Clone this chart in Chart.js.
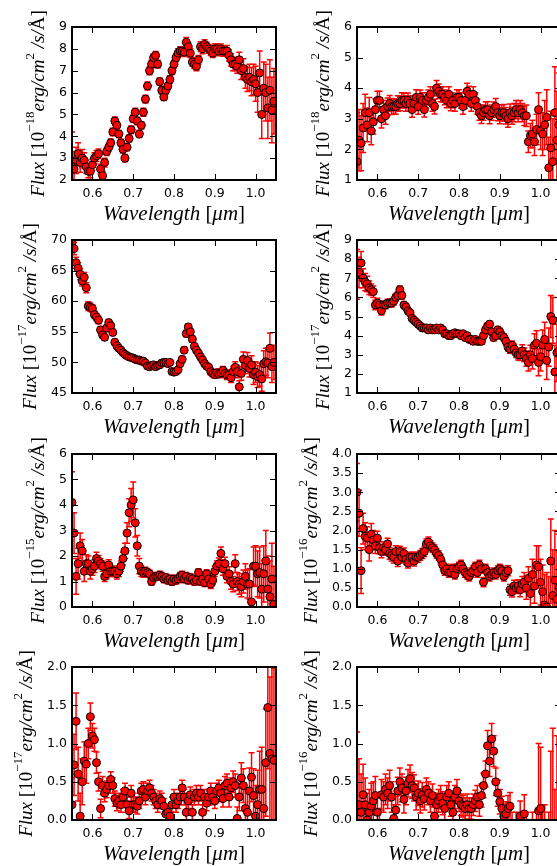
<!DOCTYPE html>
<html>
<head>
<meta charset="utf-8">
<script src="https://cdn.jsdelivr.net/npm/chart.js@4.4.0/dist/chart.umd.min.js"></script>
<style>
  html, body { margin: 0; padding: 0; background: #fff; overflow: hidden; }
  #wrap { position: relative; width: 557px; height: 866px; overflow: hidden; }
  #wrap canvas { position: absolute; }
</style>
</head>
<body>
<div id="wrap"></div>
<script>
// wavelength grid (micron), shared by all panels
const wavelength = [
  0.550,0.555,0.560,0.565,0.570,0.575,0.580,0.585,0.590,0.595,
  0.600,0.605,0.610,0.615,0.620,0.625,0.630,0.635,0.640,0.645,
  0.650,0.655,0.660,0.665,0.670,0.675,0.680,0.685,0.690,0.695,
  0.700,0.705,0.710,0.715,0.720,0.725,0.730,0.735,0.740,0.745,
  0.750,0.755,0.760,0.765,0.770,0.775,0.780,0.785,0.790,0.795,
  0.800,0.805,0.810,0.815,0.820,0.825,0.830,0.835,0.840,0.845,
  0.850,0.855,0.860,0.865,0.870,0.875,0.880,0.885,0.890,0.895,
  0.900,0.905,0.910,0.915,0.920,0.925,0.930,0.935,0.940,0.945,
  0.950,0.955,0.960,0.965,0.970,0.975,0.980,0.985,0.990,0.995,
  1.000,1.005,1.010,1.015,1.020,1.025,1.030,1.035,1.040,1.045
];
const xTicks = [0.6, 0.7, 0.8, 0.9, 1.0];

const flux1 = [
  2.7,2.5,2.9,3.2,2.8,3.0,2.9,2.6,2.4,2.4,
  2.7,3.0,3.1,3.2,2.5,2.2,2.8,3.3,3.5,3.7,
  4.2,4.7,4.5,4.1,3.7,3.4,3.0,3.5,3.9,4.3,
  4.8,5.1,4.7,4.1,4.5,5.1,5.7,6.3,7.0,7.3,
  7.6,7.7,7.3,6.5,6.1,5.8,6.1,6.3,6.6,7.0,
  7.3,7.6,7.8,7.9,7.9,7.85,8.3,8.1,7.8,7.4,
  7.3,7.2,7.5,8.1,8.0,8.2,8.1,8.0,7.9,7.8,
  8.0,8.0,7.9,8.0,7.9,7.9,7.9,7.7,7.5,7.3,
  7.3,7.2,7.5,7.0,7.1,6.7,6.6,6.7,6.5,6.6,
  6.4,6.0,6.9,5.0,6.2,6.0,5.3,6.1,5.2,5.6
];
const err1 = [
  1.5,0.8,0.6,0.5,0.45,0.4,0.35,0.3,0.3,0.3,
  0.25,0.25,0.25,0.22,0.22,0.2,0.2,0.18,0.18,0.18,
  0.17,0.18,0.17,0.16,0.16,0.16,0.17,0.16,0.16,0.17,
  0.17,0.18,0.17,0.16,0.17,0.18,0.18,0.18,0.18,0.18,
  0.18,0.18,0.18,0.17,0.17,0.16,0.16,0.16,0.17,0.17,
  0.18,0.18,0.2,0.2,0.2,0.2,0.22,0.2,0.2,0.2,
  0.2,0.2,0.2,0.22,0.22,0.22,0.2,0.2,0.2,0.2,
  0.22,0.22,0.22,0.22,0.24,0.24,0.25,0.26,0.28,0.3,
  0.3,0.32,0.35,0.4,0.45,0.5,0.55,0.6,0.65,0.7,
  0.8,0.9,1.0,1.1,1.2,1.3,1.4,1.4,1.5,1.5
];

const flux2 = [
  1.6,2.3,2.2,2.7,3.2,2.8,3.2,2.6,2.9,3.3,
  3.6,3.6,3.0,3.3,3.1,3.4,3.5,3.4,3.4,3.4,
  3.5,3.5,3.6,3.6,3.5,3.6,3.5,3.3,3.5,3.7,
  3.4,3.7,3.6,3.3,3.6,3.7,3.8,3.5,3.4,4.0,
  3.9,3.8,3.8,3.7,3.6,3.8,3.5,3.6,3.5,3.7,
  3.7,3.6,3.4,3.6,3.9,3.8,3.5,3.8,3.6,3.4,
  3.2,3.1,3.2,3.3,3.3,3.1,3.2,3.3,3.4,3.2,
  3.1,3.2,3.2,3.1,3.0,3.2,3.1,3.2,3.3,3.2,
  3.3,3.2,3.1,3.1,2.25,2.45,2.5,2.25,2.65,3.3,
  2.6,2.5,2.8,3.05,1.4,2.05,1.6,3.2,2.3,2.8
];
const err2 = [
  1.6,1.0,0.9,0.8,0.6,0.55,0.5,0.45,0.4,0.35,
  0.3,0.3,0.3,0.3,0.28,0.28,0.26,0.26,0.25,0.25,
  0.25,0.24,0.25,0.24,0.25,0.24,0.25,0.25,0.24,0.25,
  0.25,0.24,0.25,0.24,0.25,0.24,0.25,0.25,0.24,0.25,
  0.24,0.24,0.25,0.24,0.24,0.25,0.24,0.24,0.25,0.25,
  0.25,0.25,0.25,0.26,0.26,0.26,0.25,0.25,0.25,0.25,
  0.25,0.25,0.25,0.26,0.26,0.26,0.25,0.25,0.26,0.26,
  0.26,0.26,0.27,0.27,0.28,0.28,0.28,0.3,0.3,0.3,
  0.3,0.3,0.32,0.35,0.35,0.4,0.45,0.45,0.5,0.55,
  0.6,0.7,0.8,0.9,1.0,1.2,1.4,1.5,1.6,1.7
];

const flux3 = [
  69.6,68.6,66.3,65.4,64.4,63.3,63.9,62.2,59.2,59.0,
  58.8,57.8,57.4,56.9,55.3,54.5,54.1,55.6,56.5,56.0,
  54.9,53.3,52.7,52.3,52.0,51.6,51.3,51.1,50.9,50.8,
  50.7,50.5,50.4,50.4,50.2,50.2,49.9,49.4,49.3,49.5,
  49.6,49.3,49.5,49.6,49.9,50.0,50.0,49.8,50.0,48.5,
  48.4,48.5,48.8,49.8,50.5,52.0,54.7,55.8,55.0,53.8,
  52.6,52.0,51.5,50.9,50.4,49.8,49.4,49.2,48.5,48.2,
  48.0,48.3,48.1,48.3,48.7,48.2,47.9,48.0,47.5,48.5,
  49.2,48.5,46.0,48.2,50.5,49.5,50.3,49.0,49.6,48.0,
  48.4,47.7,48.0,47.3,49.8,50.1,49.9,52.3,49.3,50.0
];
const err3 = [
  1.0,1.0,0.9,0.9,0.9,0.8,0.8,0.8,0.7,0.7,
  0.6,0.6,0.6,0.6,0.55,0.55,0.5,0.5,0.5,0.5,
  0.5,0.45,0.45,0.45,0.45,0.45,0.45,0.45,0.45,0.45,
  0.45,0.45,0.45,0.45,0.45,0.45,0.45,0.45,0.45,0.45,
  0.45,0.45,0.45,0.45,0.45,0.45,0.45,0.45,0.45,0.45,
  0.45,0.45,0.45,0.45,0.45,0.5,0.5,0.5,0.5,0.5,
  0.5,0.5,0.5,0.5,0.5,0.5,0.5,0.5,0.55,0.55,
  0.6,0.6,0.6,0.65,0.65,0.7,0.7,0.75,0.8,0.85,
  0.9,1.0,1.0,1.1,1.2,1.3,1.3,1.4,1.5,1.6,
  1.7,1.8,1.9,2.0,2.1,2.2,2.4,2.5,2.6,2.8
];

const flux4 = [
  7.2,7.3,7.8,7.0,6.8,6.7,6.5,6.4,6.3,5.6,
  5.7,5.6,5.3,5.6,5.6,5.7,5.7,5.7,5.8,6.0,
  6.1,6.4,6.1,5.6,5.5,5.3,5.2,4.9,4.8,4.7,
  4.6,4.5,4.4,4.4,4.4,4.3,4.4,4.3,4.3,4.4,
  4.3,4.4,4.3,4.1,4.1,4.0,4.0,4.1,4.15,4.1,
  4.1,4.0,4.1,3.9,4.0,3.8,3.8,3.7,3.8,3.7,
  3.7,3.7,4.0,4.3,4.5,4.6,4.2,3.9,4.0,4.3,
  4.2,4.0,3.9,3.7,3.4,3.3,3.5,3.3,3.1,3.0,
  3.0,3.2,3.0,2.8,2.6,3.0,2.8,3.5,3.6,2.6,
  2.9,3.5,3.8,2.7,3.4,5.0,4.8,2.1,3.1,3.2
];
const err4 = [
  1.3,0.8,0.6,0.5,0.45,0.4,0.35,0.3,0.3,0.25,
  0.25,0.22,0.22,0.2,0.2,0.2,0.2,0.2,0.2,0.2,
  0.2,0.2,0.18,0.18,0.18,0.17,0.17,0.16,0.16,0.16,
  0.15,0.15,0.15,0.15,0.15,0.15,0.15,0.15,0.15,0.15,
  0.15,0.15,0.15,0.15,0.15,0.15,0.15,0.15,0.15,0.15,
  0.15,0.15,0.15,0.15,0.15,0.15,0.15,0.15,0.15,0.15,
  0.15,0.15,0.16,0.16,0.17,0.17,0.17,0.17,0.17,0.18,
  0.18,0.18,0.2,0.2,0.2,0.22,0.22,0.25,0.25,0.28,
  0.3,0.32,0.35,0.4,0.45,0.5,0.55,0.6,0.65,0.7,
  0.75,0.8,0.9,1.0,1.0,1.1,1.2,1.4,1.5,1.6
];

const flux5 = [
  4.1,2.9,1.2,1.7,2.4,2.2,1.4,1.7,1.7,1.4,
  1.5,1.6,1.9,1.8,1.7,1.6,1.2,1.3,1.65,1.4,
  1.4,1.4,1.3,1.4,1.6,1.9,2.2,2.9,3.7,4.0,
  4.2,3.3,2.4,1.6,1.4,1.35,1.4,1.35,1.3,1.0,
  1.15,1.2,1.2,1.25,1.2,1.1,1.15,1.05,1.1,1.0,
  1.1,1.05,1.1,1.2,1.25,1.1,1.2,1.05,1.15,1.1,
  1.0,1.05,1.35,1.0,1.1,0.95,1.3,1.1,0.9,1.05,
  1.4,1.6,1.7,2.1,1.5,1.7,1.2,1.3,1.0,0.9,
  1.7,1.0,0.9,0.8,1.0,1.2,0.9,0.9,0.2,1.6,
  1.6,1.3,1.35,0.7,1.3,1.8,0.7,0.4,1.1,0.1
];
const err5 = [
  1.2,0.8,0.7,0.6,0.5,0.45,0.4,0.35,0.3,0.3,
  0.25,0.25,0.25,0.22,0.2,0.2,0.2,0.2,0.2,0.2,
  0.2,0.2,0.2,0.2,0.2,0.25,0.3,0.4,0.55,0.65,
  0.7,0.55,0.4,0.3,0.2,0.18,0.16,0.16,0.15,0.15,
  0.15,0.15,0.15,0.15,0.15,0.15,0.15,0.15,0.15,0.15,
  0.15,0.15,0.15,0.15,0.15,0.15,0.15,0.15,0.15,0.15,
  0.15,0.15,0.15,0.15,0.15,0.15,0.16,0.16,0.17,0.18,
  0.2,0.2,0.22,0.25,0.25,0.25,0.25,0.28,0.3,0.3,
  0.35,0.35,0.4,0.4,0.45,0.5,0.55,0.6,0.7,0.75,
  0.8,0.9,1.0,1.0,1.1,1.2,1.3,1.4,1.4,1.5
];

const flux6 = [
  3.0,2.45,0.95,2.05,1.85,1.8,1.5,1.9,1.75,1.6,
  1.8,1.55,1.45,1.55,1.5,1.65,1.4,1.35,1.3,1.45,
  1.2,1.45,1.3,1.4,1.25,1.15,1.3,1.3,1.2,1.3,
  1.3,1.35,1.4,1.45,1.65,1.7,1.6,1.55,1.5,1.4,
  1.35,1.25,1.1,0.95,1.0,0.9,0.9,1.0,0.85,1.0,
  1.05,1.1,1.0,0.9,0.85,0.8,0.9,0.95,1.05,0.9,
  1.1,1.0,0.65,1.0,0.9,0.8,0.85,0.9,0.85,0.95,
  1.0,0.95,0.8,0.9,0.95,0.45,0.4,0.55,0.5,0.55,
  0.45,0.6,0.65,0.5,0.75,0.35,0.85,0.55,1.1,1.05,
  0.65,0.4,0.05,0.0,-0.2,1.2,0.3,0.7,0.2,0.5
];
const err6 = [
  0.75,0.6,0.6,0.4,0.35,0.3,0.3,0.28,0.25,0.2,
  0.18,0.16,0.16,0.15,0.15,0.15,0.15,0.15,0.15,0.15,
  0.14,0.14,0.14,0.14,0.13,0.13,0.13,0.13,0.13,0.13,
  0.13,0.13,0.13,0.13,0.13,0.13,0.13,0.12,0.12,0.12,
  0.12,0.12,0.12,0.12,0.12,0.12,0.12,0.12,0.12,0.12,
  0.12,0.12,0.12,0.12,0.12,0.12,0.12,0.12,0.12,0.12,
  0.12,0.12,0.12,0.12,0.12,0.12,0.12,0.12,0.12,0.12,
  0.12,0.12,0.12,0.13,0.13,0.14,0.14,0.15,0.15,0.16,
  0.18,0.2,0.25,0.3,0.3,0.35,0.4,0.45,0.5,0.55,
  0.6,0.7,0.8,0.9,1.0,1.1,1.2,1.3,1.3,1.4
];

const flux7 = [
  0.2,0.72,1.29,0.6,0.05,0.5,0.77,0.73,1.0,1.35,
  1.1,1.05,0.75,0.5,0.15,0.45,0.35,0.4,0.45,0.53,
  0.45,0.28,0.22,0.25,0.2,0.3,0.38,0.2,0.12,0.35,
  0.2,0.2,0.18,0.25,0.38,0.4,0.3,0.38,0.42,0.35,
  0.3,0.25,0.2,0.28,0.25,0.18,0.08,0.1,0.05,0.2,
  0.3,0.2,0.25,0.3,0.42,0.3,0.1,0.25,0.33,0.1,
  0.3,0.35,0.3,0.35,0.1,0.3,0.22,0.3,0.38,0.3,
  0.25,0.38,0.42,0.35,0.28,0.45,0.48,0.3,0.42,0.5,
  0.45,0.02,0.3,0.55,0.45,0.15,0.1,0.38,0.56,0.32,
  0.05,0.2,0.4,0.4,0.15,0.75,1.47,0.87,0.8,0.78
];
const err7 = [
  0.35,0.4,0.37,0.35,0.3,0.3,0.25,0.25,0.2,0.18,
  0.16,0.15,0.14,0.12,0.12,0.12,0.11,0.11,0.1,0.1,
  0.1,0.1,0.1,0.1,0.1,0.1,0.1,0.1,0.1,0.1,
  0.1,0.1,0.1,0.1,0.1,0.1,0.1,0.1,0.1,0.1,
  0.1,0.1,0.1,0.1,0.1,0.1,0.1,0.1,0.1,0.1,
  0.1,0.1,0.1,0.1,0.1,0.1,0.1,0.1,0.1,0.1,
  0.1,0.1,0.1,0.1,0.1,0.1,0.1,0.1,0.1,0.1,
  0.1,0.1,0.1,0.11,0.11,0.12,0.12,0.13,0.13,0.14,
  0.15,0.15,0.18,0.2,0.22,0.25,0.28,0.3,0.32,0.35,
  0.4,0.45,0.5,0.55,0.6,0.7,0.8,1.0,1.2,1.2
];

const flux8 = [
  0.15,0.2,0.1,0.33,0.2,0.0,0.1,0.18,0.25,0.32,
  0.1,-0.05,0.33,0.3,0.4,0.35,0.45,0.3,0.02,0.13,
  0.38,0.5,0.42,0.27,0.38,0.48,0.54,0.45,0.42,0.3,
  0.35,0.25,0.33,0.28,0.4,0.35,0.25,0.32,0.05,0.2,
  0.25,0.3,0.22,0.15,0.3,0.35,0.2,0.1,0.3,0.38,
  0.25,0.2,0.18,0.15,0.2,0.15,0.15,0.2,0.25,0.3,
  0.2,0.32,0.45,0.6,0.97,0.77,1.06,0.9,0.5,0.35,
  0.24,0.15,0.05,0.08,0.15,0.18,-0.1,-0.3,-0.2,-0.4,
  0.05,-0.2,0.08,-0.3,-0.4,-0.5,-0.3,-0.6,-0.3,0.12,
  0.15,-0.5,-0.3,-0.8,-0.5,-0.3,-0.4,-0.6,-0.2,-0.5
];
const err8 = [
  1.0,0.6,0.5,0.4,0.35,0.35,0.3,0.3,0.25,0.25,
  0.2,0.2,0.2,0.2,0.2,0.2,0.2,0.2,0.18,0.18,
  0.18,0.18,0.18,0.18,0.18,0.18,0.18,0.17,0.17,0.17,
  0.16,0.16,0.16,0.15,0.15,0.15,0.15,0.15,0.15,0.15,
  0.15,0.15,0.15,0.15,0.15,0.15,0.15,0.15,0.15,0.15,
  0.14,0.14,0.14,0.14,0.14,0.14,0.14,0.14,0.14,0.15,
  0.15,0.15,0.16,0.17,0.2,0.2,0.2,0.2,0.18,0.17,
  0.16,0.16,0.16,0.16,0.17,0.18,0.2,0.3,0.3,0.4,
  0.2,0.3,0.25,0.4,0.4,0.45,0.4,0.5,0.4,0.88,
  0.8,0.6,0.5,0.7,0.6,1.2,1.6,1.0,1.3,1.2
];

const yTicks1 = [2, 3, 4, 5, 6, 7, 8, 9];
const yTicks2 = [1, 2, 3, 4, 5, 6];
const yTicks3 = [45, 50, 55, 60, 65, 70];
const yTicks4 = [1, 2, 3, 4, 5, 6, 7, 8, 9];
const yTicks5 = [0, 1, 2, 3, 4, 5, 6];
const yTicks6 = [0, 0.5, 1, 1.5, 2, 2.5, 3, 3.5, 4];
const yTicks7 = [0, 0.5, 1, 1.5, 2];
const yTicks8 = [0, 0.5, 1, 1.5, 2];
const exponents = ['18', '18', '17', '17', '15', '16', '17', '16'];

const panels = [
  { flux: flux1, err: err1, ticks: yTicks1, dec: 0 },
  { flux: flux2, err: err2, ticks: yTicks2, dec: 0 },
  { flux: flux3, err: err3, ticks: yTicks3, dec: 0 },
  { flux: flux4, err: err4, ticks: yTicks4, dec: 0 },
  { flux: flux5, err: err5, ticks: yTicks5, dec: 0 },
  { flux: flux6, err: err6, ticks: yTicks6, dec: 1 },
  { flux: flux7, err: err7, ticks: yTicks7, dec: 1 },
  { flux: flux8, err: err8, ticks: yTicks8, dec: 1 }
];

// canvas placement
const W = 282, H = 218;
const colLeft = [0, 285];
const rowTop = [7, 220, 434, 647];

const SERIF = '"Liberation Serif", "DejaVu Serif", serif';
const TICKFONT = '12.5px "DejaVu Sans"';

function drawRich(ctx, segs, cx, baseY) {
  let total = 0;
  segs.forEach(s => { ctx.font = s.font; s.w = ctx.measureText(s.text).width; total += s.w; });
  let x = cx - total / 2;
  segs.forEach(s => {
    ctx.font = s.font;
    ctx.fillText(s.text, x, baseY - (s.rise || 0));
    x += s.w;
  });
}

const axesPlugin = {
  id: 'axesDecor',
  beforeDatasetsDraw(chart) {
    const { ctx, chartArea: a, scales: { x, y } } = chart;
    const ds = chart.data.datasets[0];
    ctx.save();
    ctx.beginPath();
    ctx.rect(a.left, a.top, a.right - a.left, a.bottom - a.top);
    ctx.clip();
    ctx.strokeStyle = '#ff0000';
    ctx.lineWidth = 1.5;
    ds.data.forEach((p, i) => {
      const e = ds.errors[i];
      const px = x.getPixelForValue(p.x);
      const lo = y.getPixelForValue(p.y - e);
      const hi = y.getPixelForValue(p.y + e);
      ctx.beginPath();
      ctx.moveTo(px, lo); ctx.lineTo(px, hi);
      ctx.moveTo(px - 3, lo); ctx.lineTo(px + 3, lo);
      ctx.moveTo(px - 3, hi); ctx.lineTo(px + 3, hi);
      ctx.stroke();
    });
    ctx.restore();
  },
  afterDraw(chart) {
    const { ctx, chartArea: a, scales: { x, y } } = chart;
    const opts = chart.options.plugins.axesDecor;
    ctx.save();
    ctx.strokeStyle = '#000';
    // inward ticks on all four sides
    ctx.lineWidth = 1;
    ctx.beginPath();
    x.ticks.forEach(t => {
      const px = Math.round(x.getPixelForValue(t.value)) + 0.5;
      ctx.moveTo(px, a.bottom); ctx.lineTo(px, a.bottom - 6);
      ctx.moveTo(px, a.top); ctx.lineTo(px, a.top + 6);
    });
    y.ticks.forEach(t => {
      const py = Math.round(y.getPixelForValue(t.value)) + 0.5;
      ctx.moveTo(a.left, py); ctx.lineTo(a.left + 6, py);
      ctx.moveTo(a.right, py); ctx.lineTo(a.right - 6, py);
    });
    ctx.stroke();
    // frame
    ctx.lineWidth = 2;
    ctx.strokeRect(a.left, a.top, a.right - a.left, a.bottom - a.top);

    ctx.fillStyle = '#000';
    ctx.textAlign = 'left';
    ctx.textBaseline = 'alphabetic';
    // x label
    drawRich(ctx, [
      { text: 'Wavelength', font: 'italic 21px ' + SERIF },
      { text: ' [', font: '21px ' + SERIF },
      { text: '\u03bcm', font: 'italic 21px ' + SERIF },
      { text: ']', font: '21px ' + SERIF }
    ], (a.left + a.right) / 2, a.bottom + 40);

    // y label, offset by widest tick label
    ctx.font = TICKFONT;
    let maxW = 0;
    y.ticks.forEach(t => { maxW = Math.max(maxW, ctx.measureText(String(t.label)).width); });
    const baseX = a.left - maxW - 20;
    ctx.translate(baseX, (a.top + a.bottom) / 2);
    ctx.rotate(-Math.PI / 2);
    drawRich(ctx, [
      { text: 'Flux', font: 'italic 19px ' + SERIF },
      { text: ' [10', font: '19px ' + SERIF },
      { text: '\u2212' + opts.exp, font: '13px ' + SERIF, rise: 10 },
      { text: 'erg/cm', font: 'italic 19px ' + SERIF },
      { text: '2', font: '13px ' + SERIF, rise: 10 },
      { text: ' /s/', font: 'italic 19px ' + SERIF },
      { text: '\u00c5]', font: '19px ' + SERIF }
    ], 0, 0);
    ctx.restore();
  }
};

const wrap = document.getElementById('wrap');
panels.forEach((p, k) => {
  const cv = document.createElement('canvas');
  cv.width = W; cv.height = H;
  cv.style.left = colLeft[k % 2] + 'px';
  cv.style.top = rowTop[Math.floor(k / 2)] + 'px';
  wrap.appendChild(cv);

  const yMin = p.ticks[0], yMax = p.ticks[p.ticks.length - 1];
  new Chart(cv, {
    type: 'scatter',
    data: {
      datasets: [{
        data: wavelength.map((w, i) => ({ x: w, y: p.flux[i] })),
        errors: p.err,
        pointRadius: 4,
        pointBorderWidth: 1,
        pointBackgroundColor: '#ff0000',
        pointBorderColor: '#000000',
        backgroundColor: '#ff0000',
        borderColor: '#000000',
        clip: 0
      }]
    },
    options: {
      responsive: false,
      animation: false,
      events: [],
      layout: { padding: { top: 20, right: 6, left: 0, bottom: 0 } },
      plugins: {
        legend: { display: false },
        tooltip: { enabled: false },
        axesDecor: { exp: exponents[k] }
      },
      scales: {
        x: {
          type: 'linear', min: 0.55, max: 1.05,
          grid: { display: false, drawTicks: false },
          border: { display: false },
          afterBuildTicks: s => { s.ticks = xTicks.map(v => ({ value: v })); },
          afterFit: s => { s.height = 45; },
          ticks: {
            padding: 6, color: '#000', autoSkip: false, maxRotation: 0,
            font: { family: 'DejaVu Sans', size: 12.5 },
            callback: v => Number(v).toFixed(1)
          }
        },
        y: {
          type: 'linear', min: yMin, max: yMax,
          grid: { display: false, drawTicks: false },
          border: { display: false },
          afterBuildTicks: s => { s.ticks = p.ticks.map(v => ({ value: v })); },
          afterFit: s => { s.width = 72; },
          ticks: {
            padding: 5, color: '#000', autoSkip: false,
            font: { family: 'DejaVu Sans', size: 12.5 },
            callback: v => Number(v).toFixed(p.dec)
          }
        }
      }
    },
    plugins: [axesPlugin]
  });
});
</script>
</body>
</html>
